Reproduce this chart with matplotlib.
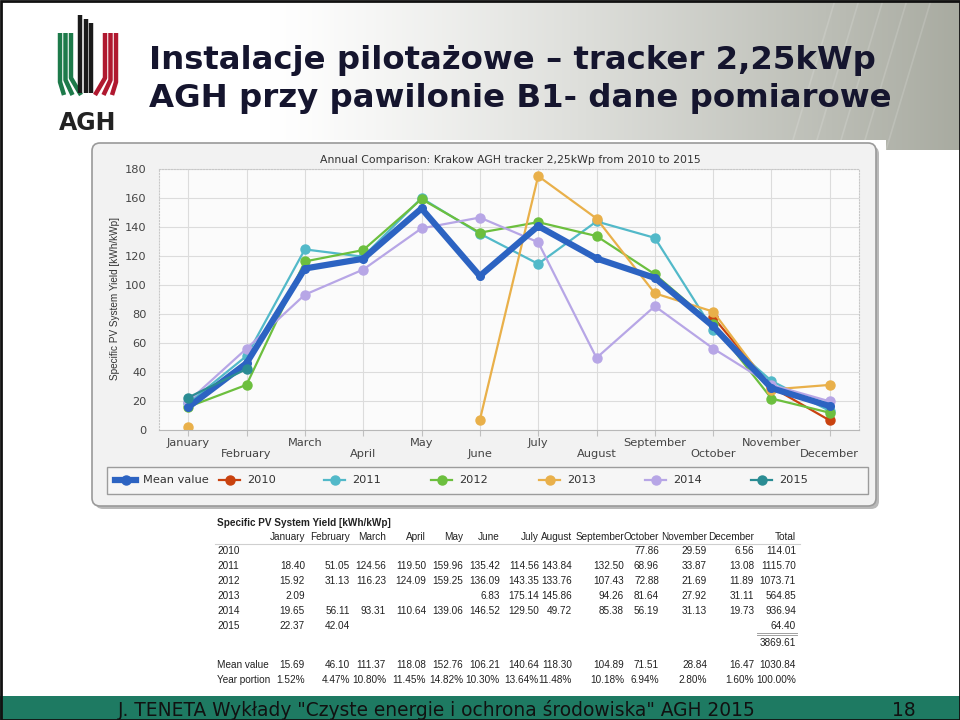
import numpy as np
import matplotlib
matplotlib.use("Agg")
import matplotlib.pyplot as plt
from matplotlib.patches import Rectangle, FancyBboxPatch
from matplotlib.lines import Line2D

# -- DATA -- #
months = ['January', 'February', 'March', 'April', 'May', 'June', 'July',
          'August', 'September', 'October', 'November', 'December']
nan = np.nan
y2010 = [nan, nan, nan, nan, nan, nan, nan, nan, nan, 77.86, 29.59, 6.56]
y2011 = [18.40, 51.05, 124.56, 119.50, 159.96, 135.42, 114.56, 143.84, 132.50, 68.96, 33.87, 13.08]
y2012 = [15.92, 31.13, 116.23, 124.09, 159.25, 136.09, 143.35, 133.76, 107.43, 72.88, 21.69, 11.89]
y2013 = [2.09, nan, nan, nan, nan, 6.83, 175.14, 145.86, 94.26, 81.64, 27.92, 31.11]
y2014 = [19.65, 56.11, 93.31, 110.64, 139.06, 146.52, 129.50, 49.72, 85.38, 56.19, 31.13, 19.73]
y2015 = [22.37, 42.04, nan, nan, nan, nan, nan, nan, nan, nan, nan, nan]
mean_value = [15.69, 46.10, 111.37, 118.08, 152.76, 106.21, 140.64, 118.30, 104.89, 71.51, 28.84, 16.47]
years = ['2010', '2011', '2012', '2013', '2014', '2015']
totals = [114.01, 1115.70, 1073.71, 564.85, 936.94, 64.40]
grand_total = 3869.61
mean_total = 1030.84
year_portion = ['1.52%', '4.47%', '10.80%', '11.45%', '14.82%', '10.30%', '13.64%',
                '11.48%', '10.18%', '6.94%', '2.80%', '1.60%', '100.00%']

series = [y2010, y2011, y2012, y2013, y2014, y2015]
colors = ['#c9420f', '#52b9c9', '#6cbf3e', '#e9b04a', '#b7a6e6', '#2a8c93']
mean_color = '#2c63c2'

fig = plt.figure(figsize=(9.6, 7.2), dpi=100)

# background overlay in pixel coords
bg = fig.add_axes([0, 0, 1, 1], zorder=0)
bg.set_xlim(0, 960)
bg.set_ylim(720, 0)
bg.axis('off')

# top band gradient
xs = np.linspace(0, 1, 480)
t = np.clip((xs - 0.28) / 0.72, 0, 1) ** 1.2
c0 = np.array([1.0, 1.0, 1.0])
c1 = np.array([0.66, 0.67, 0.63])
grad = (c0[None, :] * (1 - t[:, None]) + c1[None, :] * t[:, None])[None, :, :]
bg.imshow(grad, extent=[0, 960, 150, 0], aspect='auto', zorder=0)
# light streaks
for k in range(5):
    x0 = 790 + k * 24
    bg.plot([x0, x0 + 45], [150, 0], color='white', lw=1.2, alpha=0.15, zorder=1)

# logo
for i, xx in enumerate([60, 65.5, 71]):
    bg.plot([xx, xx, xx + 4 + 3 * i], [33, 82 - 2 * i, 95], color='#1d7a4a', lw=3.2,
            solid_capstyle='butt', zorder=2)
for i, xx in enumerate([80, 85.5, 91]):
    bg.plot([xx, xx], [15 + 4 * i, 93], color='#1a1a1a', lw=3.2, solid_capstyle='butt', zorder=2)
for i, xx in enumerate([116, 110.5, 105]):
    bg.plot([xx, xx, xx - 4 - 3 * i], [33, 82 - 2 * i, 95], color='#b0182f', lw=3.2,
            solid_capstyle='butt', zorder=2)
bg.text(88, 123, 'AGH', ha='center', va='center', fontsize=17, fontweight='bold',
        color='#222222', zorder=3)

# title
title_kw = dict(ha='left', va='center', fontsize=23.3, fontweight='bold',
                color='#15152e', family='DejaVu Sans', zorder=3)
bg.text(149, 60, 'Instalacje pilotażowe – tracker 2,25kWp', **title_kw)
bg.text(149, 99, 'AGH przy pawilonie B1- dane pomiarowe', **title_kw)

# chart screenshot area
bg.add_patch(Rectangle((88, 140), 798, 372, facecolor='white', edgecolor='none', zorder=1))
bg.add_patch(FancyBboxPatch((95, 146), 784, 363, boxstyle='round,pad=0,rounding_size=8',
                            facecolor='#b9b9b9', edgecolor='none', zorder=1))
bg.add_patch(FancyBboxPatch((92, 143), 784, 363, boxstyle='round,pad=0,rounding_size=8',
                            facecolor='#f2f2f2', edgecolor='#9a9a9a', lw=1.2, zorder=1))
bg.text(510, 160, 'Annual Comparison: Krakow AGH tracker 2,25kWp from 2010 to 2015',
        ha='center', va='center', fontsize=7.8, color='#333333', zorder=3)
bg.text(115, 299, 'Specific PV System Yield [kWh/kWp]', rotation=90, ha='center',
        va='center', fontsize=7.2, color='#333333', family='Liberation Sans', zorder=3)

# legend
bg.add_patch(Rectangle((107, 467), 761, 27, facecolor='#f6f6f6', edgecolor='#9c9c9c',
                       lw=1, zorder=2))
leg_labels = ['Mean value'] + years
leg_colors = [mean_color] + colors
leg_x = [115, 219, 324, 431, 539, 645, 751]
for k, (lab, col, lx) in enumerate(zip(leg_labels, leg_colors, leg_x)):
    lw = 4.5 if k == 0 else 1.6
    bg.add_line(Line2D([lx, lx + 21], [480, 480], color=col, lw=lw, zorder=3))
    bg.plot([lx + 10.5], [480], 'o', color=col, ms=6.5, zorder=4)
    bg.text(lx + 28, 480, lab, ha='left', va='center', fontsize=8.2, color='#333333', zorder=4)

# chart axes
ax = fig.add_axes([159 / 960, 1 - 430 / 720, 700 / 960, 261 / 720], zorder=2)
ax.set_facecolor('#fbfbfb')
x = np.arange(12)
for s, col, yr in zip(series, colors, years):
    z = 4 if yr == '2015' else 2
    ax.plot(x, s, '-o', color=col, lw=1.6, ms=6.5, zorder=z)
ax.plot(x, mean_value, '-o', color=mean_color, lw=4.5, ms=5.5, zorder=3)

ax.set_xlim(-0.5, 11.5)
ax.set_ylim(0, 180)
ax.set_yticks(np.arange(0, 181, 20))
ax.set_xticks(x)
ax.set_xticklabels([m if i % 2 == 0 else '\n' + m for i, m in enumerate(months)])
ax.grid(True, color='#dcdcdc', lw=0.8)
ax.set_axisbelow(True)
ax.tick_params(axis='x', length=4, color='#c0c0c0', pad=1.5, labelsize=8.2, labelcolor='#444444')
ax.tick_params(axis='y', length=0, pad=9, labelsize=8.2, labelcolor='#444444')
for side in ['left', 'right', 'top']:
    ax.spines[side].set_color('#c8c8c8')
    ax.spines[side].set_linestyle(':')
ax.spines['bottom'].set_color('#b8b8b8')

# table
tab_font = dict(fontsize=7.2, color='#222222', family='Liberation Sans', zorder=3)
col_right = [305, 350, 386, 426, 463, 500, 539, 572, 624, 659, 707, 754, 796]
bg.text(217, 523, 'Specific PV System Yield [kWh/kWp]', ha='left', va='center',
        fontsize=7.2, fontweight='bold', color='#222222', family='Liberation Sans', zorder=3)
for cx, h in zip(col_right, months + ['Total']):
    bg.text(cx, 537, h, ha='right', va='center', **tab_font)
bg.plot([215, 800], [543.5, 543.5], color='#cfcfcf', lw=0.8, zorder=2)
row_y = [551, 566, 581, 596, 611, 626]
for ry, yr, s, tot in zip(row_y, years, series, totals):
    bg.text(217, ry, yr, ha='left', va='center', **tab_font)
    for cx, v in zip(col_right[:12], s):
        if not np.isnan(v):
            bg.text(cx, ry, f'{v:.2f}', ha='right', va='center', **tab_font)
    bg.text(col_right[12], ry, f'{tot:.2f}', ha='right', va='center', **tab_font)
bg.plot([757, 797], [633, 633], color='#a0a0a0', lw=0.7, zorder=2)
bg.plot([757, 797], [635, 635], color='#a0a0a0', lw=0.7, zorder=2)
bg.text(col_right[12], 643, f'{grand_total:.2f}', ha='right', va='center', **tab_font)
bg.text(217, 665, 'Mean value', ha='left', va='center', **tab_font)
for cx, v in zip(col_right, mean_value + [mean_total]):
    bg.text(cx, 665, f'{v:.2f}', ha='right', va='center', **tab_font)
bg.text(217, 680, 'Year portion', ha='left', va='center', **tab_font)
for cx, v in zip(col_right, year_portion):
    bg.text(cx, 680, v, ha='right', va='center', **tab_font)

# footer
bg.add_patch(Rectangle((0, 696), 960, 24, facecolor='#1e7a62', edgecolor='none', zorder=2))
bg.text(118, 710, 'J. TENETA Wykłady "Czyste energie i ochrona środowiska" AGH 2015',
        ha='left', va='center', fontsize=13.4, color='#111111', zorder=3)
bg.text(904, 710, '18', ha='center', va='center', fontsize=13.4, color='#111111', zorder=3)

# slide frame
bg.add_patch(Rectangle((0.5, 0.5), 959, 719, facecolor='none', edgecolor='#111111', lw=2, zorder=5))

fig.savefig('out.png', dpi=100)
